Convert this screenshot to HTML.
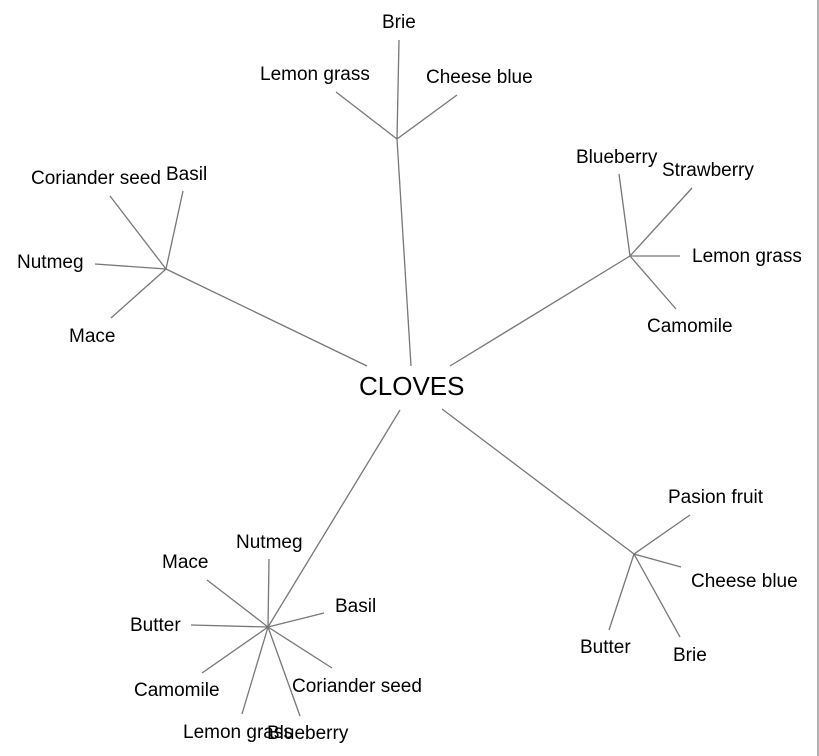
<!DOCTYPE html>
<html><head><meta charset="utf-8"><style>
html,body{margin:0;padding:0;background:#fff;}
svg{display:block;}
text{font-family:"Liberation Sans",Arial,sans-serif;font-size:19px;fill:#000;}
line{stroke:#777;stroke-width:1.3;}
</style></head><body>
<svg width="819" height="756" viewBox="0 0 819 756" xmlns="http://www.w3.org/2000/svg">
<rect x="0" y="0" width="819" height="756" fill="#fff"/>
<line x1="818" y1="0" x2="818" y2="756" style="stroke:#999;stroke-width:1.5"/>
<line x1="397" y1="139" x2="411" y2="366"/>
<line x1="397" y1="139" x2="399" y2="40"/>
<line x1="397" y1="139" x2="336" y2="92"/>
<line x1="397" y1="139" x2="457" y2="95"/>
<line x1="166" y1="269" x2="367" y2="366"/>
<line x1="166" y1="269" x2="110" y2="196"/>
<line x1="166" y1="269" x2="183" y2="191"/>
<line x1="166" y1="269" x2="95" y2="264"/>
<line x1="166" y1="269" x2="111" y2="318"/>
<line x1="630" y1="256" x2="450" y2="366"/>
<line x1="630" y1="256" x2="619" y2="174"/>
<line x1="630" y1="256" x2="692" y2="188"/>
<line x1="630" y1="256" x2="680" y2="256"/>
<line x1="630" y1="256" x2="676" y2="309"/>
<line x1="634" y1="554" x2="442" y2="409"/>
<line x1="634" y1="554" x2="690" y2="515"/>
<line x1="634" y1="554" x2="681" y2="567"/>
<line x1="634" y1="554" x2="609" y2="630"/>
<line x1="634" y1="554" x2="680" y2="637"/>
<line x1="268" y1="627" x2="400" y2="410"/>
<line x1="268" y1="627" x2="269" y2="559"/>
<line x1="268" y1="627" x2="207" y2="580"/>
<line x1="268" y1="627" x2="324" y2="613"/>
<line x1="268" y1="627" x2="191" y2="625"/>
<line x1="268" y1="627" x2="202" y2="673"/>
<line x1="268" y1="627" x2="332" y2="668"/>
<line x1="268" y1="627" x2="242" y2="714"/>
<line x1="268" y1="627" x2="300" y2="716"/>

<text x="359" y="395" style="font-size:26px">CLOVES</text>

<text x="382" y="28">Brie</text>
<text x="260" y="80">Lemon grass</text>
<text x="426" y="83">Cheese blue</text>

<text x="31" y="184">Coriander seed</text>
<text x="166" y="180">Basil</text>
<text x="17" y="268">Nutmeg</text>
<text x="69" y="342">Mace</text>

<text x="576" y="163">Blueberry</text>
<text x="662" y="176">Strawberry</text>
<text x="692" y="262">Lemon grass</text>
<text x="647" y="332">Camomile</text>

<text x="668" y="503">Pasion fruit</text>
<text x="691" y="587">Cheese blue</text>
<text x="580" y="653">Butter</text>
<text x="673" y="661">Brie</text>

<text x="236" y="548">Nutmeg</text>
<text x="162" y="568">Mace</text>
<text x="335" y="612">Basil</text>
<text x="130" y="631">Butter</text>
<text x="134" y="696">Camomile</text>
<text x="292" y="692">Coriander seed</text>
<text x="183" y="738">Lemon grass</text>
<text x="267" y="739">Blueberry</text>
</svg>
</body></html>
